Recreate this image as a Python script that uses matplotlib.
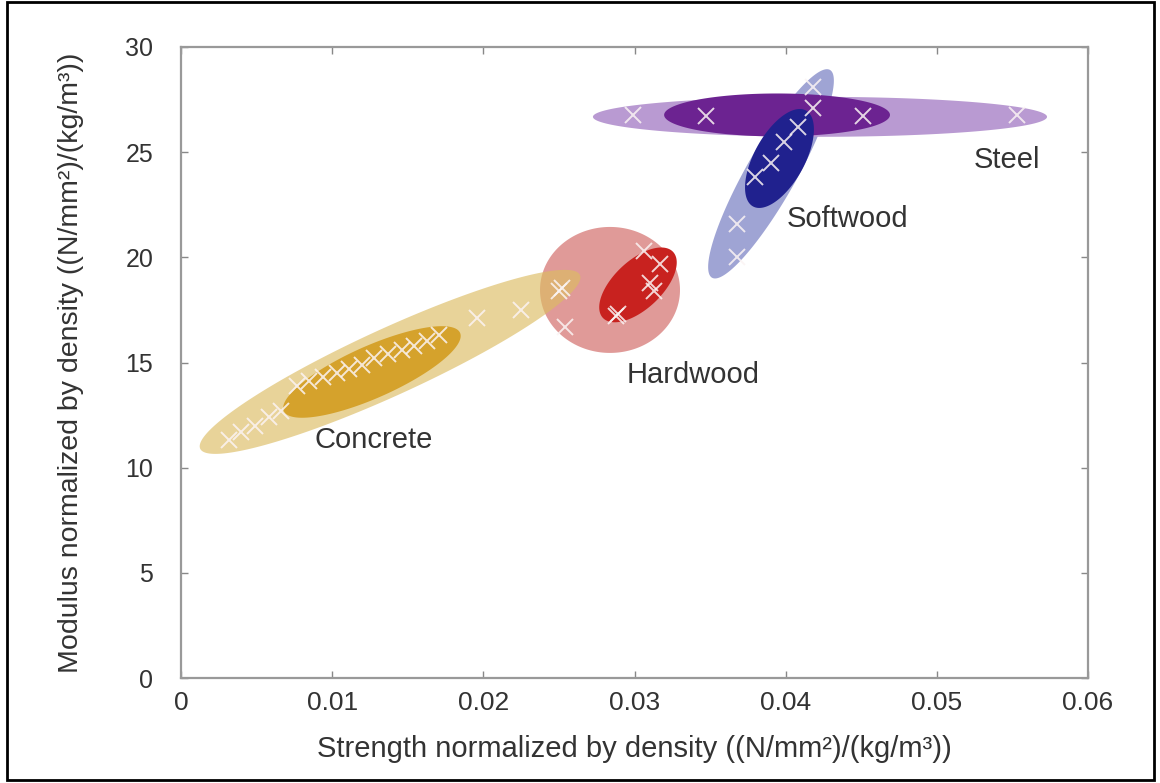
import numpy as np
import matplotlib
matplotlib.use("Agg")
import matplotlib.pyplot as plt
from matplotlib.patches import Rectangle

# strength/density (x) and modulus/density (y) samples
concrete_x = [0.0032, 0.0040, 0.0049, 0.0058, 0.0066, 0.0077, 0.0085, 0.0094, 0.0103, 0.0111,
              0.0120, 0.0128, 0.0137, 0.0146, 0.0154, 0.0163, 0.0171, 0.0196, 0.0225, 0.0252]
concrete_y = [11.3, 11.7, 12.0, 12.4, 12.7, 13.9, 14.1, 14.3, 14.5, 14.7,
              14.9, 15.2, 15.4, 15.6, 15.8, 16.0, 16.3, 17.1, 17.5, 18.55]
hardwood_x = [0.0250, 0.0254, 0.0288, 0.0289, 0.0306, 0.0317, 0.0310, 0.0313]
hardwood_y = [18.4, 16.7, 17.2, 17.3, 20.3, 19.7, 18.8, 18.4]
softwood_x = [0.0418, 0.0418, 0.0408, 0.0399, 0.0390, 0.0380, 0.0368, 0.0368]
softwood_y = [28.1, 27.1, 26.2, 25.5, 24.5, 23.8, 21.6, 20.0]
steel_x = [0.0299, 0.0347, 0.0451, 0.0553]
steel_y = [26.75, 26.7, 26.72, 26.75]

# ellipses: centre, end of major axis, minor/major ratio
concrete_outer = [(0.01383, 15.03), (0.02639, 19.16), 0.16]
concrete_inner = [(0.01263, 14.55), (0.01846, 16.41), 0.27]
hardwood_outer = [(0.02838, 18.45), (0.03301, 18.45), 0.90]
hardwood_inner = [(0.03023, 18.69), (0.03255, 20.26), 0.50]
softwood_outer = [(0.03903, 23.97), (0.04293, 28.91), 0.21]
softwood_inner = [(0.03959, 24.70), (0.04134, 26.98), 0.46]
steel_outer = [(0.04227, 26.68), (0.05729, 26.68), 0.088]
steel_inner = [(0.03943, 26.77), (0.04690, 26.77), 0.19]

xticks = [0, 0.01, 0.02, 0.03, 0.04, 0.05, 0.06]
xticklabels = ["0", "0.01", "0.02", "0.03", "0.04", "0.05", "0.06"]
yticks = [0, 5, 10, 15, 20, 25, 30]

plt.rcParams['font.family'] = ['Liberation Sans', 'DejaVu Sans']

fig = plt.figure(figsize=(11.6, 7.83), dpi=100)
ax = fig.add_axes([181/1160, 1 - 678/783, (1088-181)/1160, (678-47)/783])
ax.set_xlim(0, 0.06)
ax.set_ylim(0, 30)


def draw_ellipse(spec, color, alpha=1.0, z=1):
    center, tip, ratio = spec
    T = ax.transData
    c = T.transform(center)
    u = T.transform(tip) - c
    v = np.array([-u[1], u[0]]) * ratio
    th = np.linspace(0, 2 * np.pi, 240)
    pts = c + np.outer(np.cos(th), u) + np.outer(np.sin(th), v)
    d = T.inverted().transform(pts)
    ax.fill(d[:, 0], d[:, 1], color=color, alpha=alpha, lw=0, zorder=z)


draw_ellipse(hardwood_outer, '#e09a98', z=1)
draw_ellipse(concrete_outer, '#dcbc62', alpha=0.65, z=2)
draw_ellipse(concrete_inner, '#d5a22c', z=3)
draw_ellipse(hardwood_inner, '#c8221f', z=3)
draw_ellipse(softwood_outer, '#9fa4d4', z=2)
draw_ellipse(steel_outer, '#b99ad2', z=3)
draw_ellipse(steel_inner, '#6c2391', z=4)
draw_ellipse(softwood_inner, '#20218e', z=5)

mk = dict(marker='x', ls='none', ms=12, mew=1.4, color='#fbf4f4', alpha=0.85, zorder=6)
ax.plot(concrete_x, concrete_y, **mk)
ax.plot(hardwood_x, hardwood_y, **mk)
ax.plot(softwood_x, softwood_y, **mk)
ax.plot(steel_x, steel_y, **mk)

lab = dict(fontsize=21, color='#333333', ha='center', va='center', zorder=7)
ax.text(0.01277, 11.32, "Concrete", **lab)
ax.text(0.03387, 14.41, "Hardwood", **lab)
ax.text(0.04406, 21.83, "Softwood", **lab)
ax.text(0.05464, 24.63, "Steel", **lab)

ax.set_xticks(xticks)
ax.set_xticklabels(xticklabels, fontsize=19)
ax.set_yticks(yticks)
ax.tick_params(axis='y', labelsize=18)
ax.tick_params(direction='in', top=True, right=True, length=5, width=1,
               colors='#888888', labelcolor='#333333')
ax.tick_params(axis='x', pad=9)
ax.tick_params(axis='y', pad=20)
for s in ax.spines.values():
    s.set_color('#999999')
    s.set_linewidth(1.6)

ax.set_xlabel("Strength normalized by density ((N/mm²)/(kg/m³))",
              fontsize=21, color='#333333', labelpad=15)
ax.set_ylabel("Modulus normalized by density ((N/mm²)/(kg/m³))",
              fontsize=20.5, color='#333333', labelpad=30)

fig.patches.append(Rectangle((7/1160, 3/783), 1147/1160, 778/783, transform=fig.transFigure,
                             fill=False, ec='black', lw=2))

fig.savefig("out.png", dpi=100)
